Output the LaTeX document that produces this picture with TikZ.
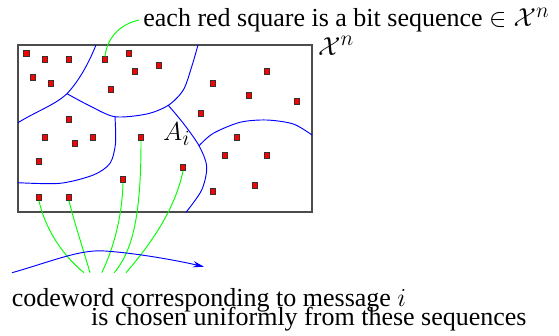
\documentclass[tikz,border=0pt]{standalone}
\usepackage{fontspec}
\setmainfont{Liberation Serif}
\usepackage{amsmath,amssymb}
\usetikzlibrary{arrows.meta}

\begin{document}
\begin{tikzpicture}[x=0.957pt, y=-0.957pt, >=Stealth,
  font=\fontsize{24.88}{28}\selectfont,
  sq/.style={draw=black!80, fill=red, line width=0.8pt, minimum size=5.4pt, inner sep=0pt},
  cell/.style={blue, line width=0.9pt},
  link/.style={green, line width=0.9pt},
  flow/.style={blue, line width=0.9pt, -{Stealth[length=10.5pt, width=6pt]}},
  lbl/.style={anchor=base west, inner sep=0pt}]
  \useasboundingbox (0,0) rectangle (559,335);
  % ---- the set of all sequences ----
  \draw[black!70, line width=1.2pt] (18,45) rectangle (312,212);
  \node[lbl] (alphabet) at (318,55) {$\mathcal{X}^n$};
  % ---- decision regions ----
  \draw[cell] (96,45) .. controls (88,65) and (78,82) .. (67,93.7)
    .. controls (55,105) and (35,112) .. (18,122.7);
  \draw[cell] plot[smooth] coordinates {(67,93.7) (90,106) (115,116.7) (146.7,114)
    (168.3,105.3) (183.3,90) (191.7,66.7) (198,45)};
  \draw[cell] plot[smooth] coordinates {(115,116.7) (115.5,143.3) (110,163.3)
    (93.3,175) (60,183.3) (18,182.7)};
  \draw[cell] plot[smooth] coordinates {(168.3,105.3) (183.3,123.3) (199,145.7)
    (206.7,166.7) (201.7,190) (186,212.3)};
  \draw[cell] plot[smooth] coordinates {(199,145.7) (213.3,133.3) (240,122.3)
    (266.7,120) (293.3,124) (312,135)};
  \node[lbl] (region) at (163,140.7) {$A_i$};
  % ---- sequences ----
  \foreach \x/\y [count=\k] in {26.7/53.7, 45/59.7, 69/59.7, 105/59.7, 129/53.7,
      159/65.7, 135/71.7, 33/77.7, 51/83.7, 111/89.7, 213/83.7, 267/71.7,
      249/95.7, 297/101.7, 201/113.7, 69/119.7, 45/137.7, 75/143.7, 93/137.7,
      141/137.7, 39/161.7, 237/137.7, 225/155.7, 267/155.7, 183/167.7,
      123/179.7, 255/185.7, 213/191.7, 39/197.7, 69/197.7}
    \node[sq] (s\k) at (\x,\y) {};
  % ---- annotations ----
  \node[anchor=base west, inner sep=4pt] (bitnote) at (139,26.7)
    {each red square is a bit sequence $\in \mathcal{X}^n$};
  \draw[link] (s4.north) .. controls (107,38) and (120,24) .. (bitnote.west);
  \coordinate (e1) at (84,272.7);
  \coordinate (e2) at (90,272.7);
  \coordinate (e3) at (101.7,272.7);
  \coordinate (e4) at (114.3,272.7);
  \coordinate (e5) at (126,272.7);
  \draw[link] (s29.south) .. controls (45,228) and (62,255) .. (e1);
  \draw[link] (s30.south) .. controls (75,225) and (85,255) .. (e2);
  \draw[link] (s26.south) .. controls (122,220) and (112,252) .. (e3);
  \draw[link] (s20.south) .. controls (141,215) and (133,250) .. (e4);
  \draw[link] (s25.south) .. controls (175,210) and (150,245) .. (e5);
  \coordinate (flowL) at (12,272.7);
  \coordinate (flowR) at (204,266.7);
  \draw[flow] (flowL) .. controls (50,262) and (80,249) .. (105,251)
    .. controls (135,253) and (175,260) .. (flowR);
  \node[lbl] (msg) at (11.7,306.7) {codeword corresponding to message $i$};
  \node[lbl] (unif) at (91,325.7) {is chosen uniformly from these sequences};
\end{tikzpicture}
\end{document}
